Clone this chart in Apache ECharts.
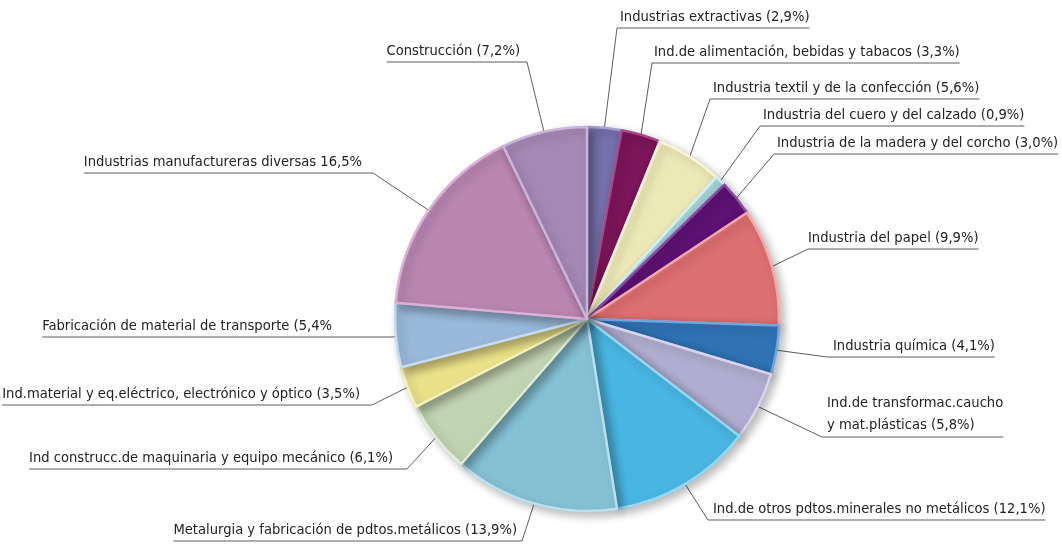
<!DOCTYPE html>
<html>
<head>
<meta charset="utf-8">
<script src="https://cdn.jsdelivr.net/npm/echarts@6/dist/echarts.min.js"></script>
<style>
  html, body { margin: 0; padding: 0; background: #fff; }
  #main { width: 1062px; height: 551px; }
</style>
</head>
<body>
<div id="main"></div>
<script>
// sectores (en el orden del gráfico, empezando arriba y en sentido horario)
var categories = [
  'Industrias extractivas',
  'Ind.de alimentación, bebidas y tabacos',
  'Industria textil y de la confección',
  'Industria del cuero y del calzado',
  'Industria de la madera y del corcho',
  'Industria del papel',
  'Industria química',
  'Ind.de transformac.caucho y mat.plásticas',
  'Ind.de otros pdtos.minerales no metálicos',
  'Metalurgia y fabricación de pdtos.metálicos',
  'Ind construcc.de maquinaria y equipo mecánico',
  'Ind.material y eq.eléctrico, electrónico y óptico',
  'Fabricación de material de transporte',
  'Industrias manufactureras diversas',
  'Construcción'
];
var values = [2.9, 3.3, 5.6, 0.9, 3.0, 9.9, 4.1, 5.8, 12.1, 13.9, 6.1, 3.5, 5.4, 16.5, 7.2];
var labelTexts = [
  'Industrias extractivas (2,9%)',
  'Ind.de alimentación, bebidas y tabacos (3,3%)',
  'Industria textil y de la confección (5,6%)',
  'Industria del cuero y del calzado (0,9%)',
  'Industria de la madera y del corcho (3,0%)',
  'Industria del papel (9,9%)',
  'Industria química (4,1%)',
  'Ind.de transformac.caucho\ny mat.plásticas (5,8%)',
  'Ind.de otros pdtos.minerales no metálicos (12,1%)',
  'Metalurgia y fabricación de pdtos.metálicos (13,9%)',
  'Ind construcc.de maquinaria y equipo mecánico (6,1%)',
  'Ind.material y eq.eléctrico, electrónico y óptico (3,5%)',
  'Fabricación de material de transporte (5,4%',
  'Industrias manufactureras diversas 16,5%',
  'Construcción (7,2%)'
];

// colores: relleno y borde claro
var colors = ['#7571ab', '#7c1559', '#ede9b7', '#a7d9e0', '#5d1173', '#dd6f71', '#2f73b5',
  '#b1add0', '#49b5e2', '#85c1d5', '#c1d4b1', '#ebe189', '#99b9da', '#b985b1', '#a589b5'];
var borders = ['#a4a2d2', '#a8488a', '#faf7d6', '#d0f0f4', '#8a4aa4', '#f4a8a8', '#70a6dc',
  '#d8d4ee', '#92d8f4', '#b8e0ee', '#e0ecd4', '#f8f2bc', '#c6dcf2', '#dcb0d6', '#cab4dc'];

// posición de las etiquetas: [x esquina, y subrayado, x texto]
var labelPos = [
  [617, 28, 620], [652, 63, 654], [710, 99, 713], [760, 126, 763], [774, 154, 777],
  [808, 249, 808], [827, 357, 833], [822, 437, 827], [708, 520, 713],
  [522, 541, 517], [407, 469, 393], [372, 405, 360], [394, 337, 332],
  [373, 173, 362], [527, 62, 520]
];

var chart = echarts.init(document.getElementById('main'));

var data = [];
for (var i = 0; i < values.length; i++) {
  data.push({
    name: categories[i],
    value: values[i],
    itemStyle: { color: colors[i], borderColor: borders[i] },
    label: i == 7 ? { lineHeight: 22 } : {}
  });
}

var option = {
  animation: false,
  series: [{
    type: 'pie',
    center: [587, 319],
    radius: 192,
    startAngle: 90,
    clockwise: true,
    avoidLabelOverlap: false,
    data: data,
    itemStyle: {
      borderWidth: 2.5,
      shadowBlur: 10,
      shadowColor: 'rgba(0,0,0,0.28)',
      shadowOffsetX: 4,
      shadowOffsetY: 4
    },
    label: {
      show: true,
      formatter: function (p) { return labelTexts[p.dataIndex]; },
      fontFamily: "'DejaVu Sans Condensed', 'Liberation Sans Narrow', sans-serif",
      fontSize: 14.6,
      lineHeight: 20,
      color: '#222'
    },
    labelLine: {
      show: true,
      length: 10,
      length2: 10,
      lineStyle: { color: '#333', width: 0.8 }
    },
    labelLayout: function (params) {
      var pos = labelPos[params.dataIndex];
      var w = params.labelRect.width;
      var right = pos[2] >= pos[0];
      var far = right ? pos[2] + w : pos[2] - w;
      var p0 = params.labelLinePoints[0];
      return {
        x: pos[2],
        y: pos[1] - 1,
        align: right ? 'left' : 'right',
        verticalAlign: 'bottom',
        labelLinePoints: [p0, [pos[0], pos[1]], [far, pos[1]]]
      };
    }
  }]
};
chart.setOption(option);
</script>
</body>
</html>
